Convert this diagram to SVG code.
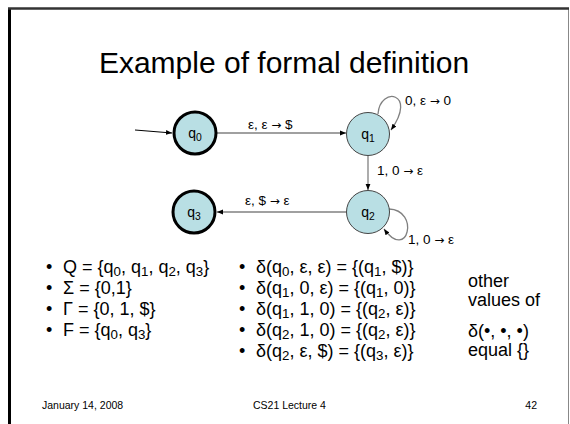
<svg xmlns="http://www.w3.org/2000/svg" width="570" height="424" viewBox="0 0 570 424">
<style>
text{font-family:"Liberation Sans",Arial,sans-serif;fill:#000}
.t{font-size:30px}
.e{font-size:13.5px}
.ar{font-family:"DejaVu Sans",sans-serif;font-size:12px}
.n{font-size:14px}
.b{font-size:18px}
.f{font-size:10.5px}
.s{font-size:0.74em}
.node{fill:#b9dfe4}
.thick{stroke:#000;stroke-width:3}
.thin{stroke:#444;stroke-width:1}
.c{fill:none;stroke:#808080;stroke-width:1.3}
</style>
<defs>
<marker id="ah" viewBox="0 0 10 10" refX="10" refY="5" markerWidth="6" markerHeight="6" orient="auto" markerUnits="userSpaceOnUse">
<path d="M0,1 L10,5 L0,9 z" fill="#000"/>
</marker>
</defs>
<rect width="570" height="424" fill="#fff"/>
<path d="M9.5,430 V8.5 H568.5 V430" fill="none" stroke="#888" stroke-width="1"/>
<line x1="9.5" y1="8" x2="9.5" y2="430" stroke="#000" stroke-width="3"/>
<line x1="8" y1="8.5" x2="569" y2="8.5" stroke="#333" stroke-width="2.5"/>
<text class="t" x="284" y="73" text-anchor="middle">Example of formal definition</text>

<g id="connectors">
<line x1="135" y1="130" x2="172" y2="133" stroke="#000" stroke-width="1" marker-end="url(#ah)"/>
<line class="c" x1="217" y1="133" x2="346" y2="133" marker-end="url(#ah)"/>
<text class="e" x="248" y="129">ε, ε <tspan class="ar">→</tspan> $</text>
<path class="c" d="M378,114 C380,86 418,92 391,130" marker-end="url(#ah)"/>
<text class="e" x="405" y="105">0, ε <tspan class="ar">→</tspan> 0</text>
<line class="c" x1="368" y1="156" x2="368" y2="190" marker-end="url(#ah)"/>
<text class="e" x="377" y="175">1, 0 <tspan class="ar">→</tspan> ε</text>
<path class="c" d="M389,209 C420,210 408,262 384,229" marker-end="url(#ah)"/>
<text class="e" x="408" y="244">1, 0 <tspan class="ar">→</tspan> ε</text>
<line class="c" x1="346" y1="212" x2="217" y2="212" marker-end="url(#ah)"/>
<text class="e" x="245" y="205">ε, $ <tspan class="ar">→</tspan> ε</text>
</g>

<g id="q0"><circle class="node thick" cx="195" cy="133" r="21"/><text class="n" x="195" y="138" text-anchor="middle">q<tspan class="s" dy="3">0</tspan></text></g>
<g id="q1"><circle class="node thin" cx="368" cy="134" r="21.5"/><text class="n" x="368" y="139" text-anchor="middle">q<tspan class="s" dy="3">1</tspan></text></g>
<g id="q2"><circle class="node thin" cx="368" cy="212" r="21.5"/><text class="n" x="368" y="217" text-anchor="middle">q<tspan class="s" dy="3">2</tspan></text></g>
<g id="q3"><circle class="node thick" cx="194" cy="212" r="21"/><text class="n" x="194" y="217" text-anchor="middle">q<tspan class="s" dy="3">3</tspan></text></g>

<g id="defs-left">
<text class="b" x="46" y="273">•</text>
<text class="b" x="63" y="273">Q = {q<tspan class="s" dy="3">0</tspan><tspan dy="-3">, q</tspan><tspan class="s" dy="3">1</tspan><tspan dy="-3">, q</tspan><tspan class="s" dy="3">2</tspan><tspan dy="-3">, q</tspan><tspan class="s" dy="3">3</tspan><tspan dy="-3">}</tspan></text>
<text class="b" x="46" y="294">•</text>
<text class="b" x="63" y="294">Σ = {0,1}</text>
<text class="b" x="46" y="315">•</text>
<text class="b" x="63" y="315">Γ = {0, 1, $}</text>
<text class="b" x="46" y="336">•</text>
<text class="b" x="63" y="336">F = {q<tspan class="s" dy="3">0</tspan><tspan dy="-3">, q</tspan><tspan class="s" dy="3">3</tspan><tspan dy="-3">}</tspan></text>
</g>

<g id="defs-delta">
<text class="b" x="239" y="273">•</text>
<text class="b" x="256" y="273">δ(q<tspan class="s" dy="3">0</tspan><tspan dy="-3">, ε, ε) = {(q</tspan><tspan class="s" dy="3">1</tspan><tspan dy="-3">, $)}</tspan></text>
<text class="b" x="239" y="294">•</text>
<text class="b" x="256" y="294">δ(q<tspan class="s" dy="3">1</tspan><tspan dy="-3">, 0, ε) = {(q</tspan><tspan class="s" dy="3">1</tspan><tspan dy="-3">, 0)}</tspan></text>
<text class="b" x="239" y="315">•</text>
<text class="b" x="256" y="315">δ(q<tspan class="s" dy="3">1</tspan><tspan dy="-3">, 1, 0) = {(q</tspan><tspan class="s" dy="3">2</tspan><tspan dy="-3">, ε)}</tspan></text>
<text class="b" x="239" y="336">•</text>
<text class="b" x="256" y="336">δ(q<tspan class="s" dy="3">2</tspan><tspan dy="-3">, 1, 0) = {(q</tspan><tspan class="s" dy="3">2</tspan><tspan dy="-3">, ε)}</tspan></text>
<text class="b" x="239" y="357">•</text>
<text class="b" x="256" y="357">δ(q<tspan class="s" dy="3">2</tspan><tspan dy="-3">, ε, $) = {(q</tspan><tspan class="s" dy="3">3</tspan><tspan dy="-3">, ε)}</tspan></text>
</g>

<g id="other">
<text class="b" x="468" y="287">other</text>
<text class="b" x="468" y="306">values of</text>
<text class="b" x="468" y="337">δ(•, •, •)</text>
<text class="b" x="468" y="356">equal {}</text>
</g>

<g id="footer">
<text class="f" x="42" y="409">January 14, 2008</text>
<text class="f" x="253" y="409">CS21 Lecture 4</text>
<text class="f" x="537" y="409" text-anchor="end">42</text>
</g>
</svg>
